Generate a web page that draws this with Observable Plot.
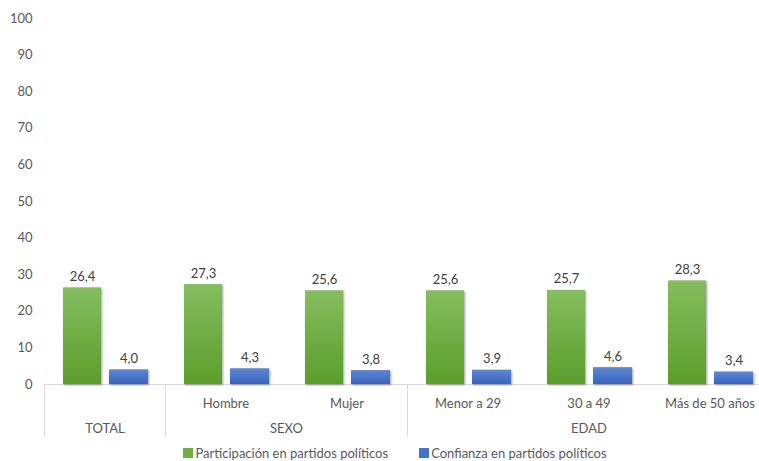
<!DOCTYPE html>
<html><head><meta charset="utf-8">
<script src="https://cdn.jsdelivr.net/npm/d3@7"></script>
<script src="https://cdn.jsdelivr.net/npm/@observablehq/plot@0.6"></script>
<style>
body{margin:0;background:#fff;font-family:Lato,"Open Sans",sans-serif;overflow:hidden;width:759px;height:461px}
#chart svg{display:block}
#chart g[aria-label="bar"] rect{filter:drop-shadow(1.5px 1.5px 1.2px rgba(0,0,0,0.38))}
.legend{display:flex;justify-content:center;align-items:center;height:21px;margin-top:2px;margin-left:31px;font-size:13px;color:#595959;gap:31px}
.legend .it{display:flex;align-items:center}
.legend .sw{width:10px;height:10px;margin-right:2px;display:inline-block}
</style></head>
<body>
<div id="chart"></div>
<div class="legend" id="legend"></div>
<script>
const categories = ["TOTAL","Hombre","Mujer","Menor a 29","30 a 49","Más de 50 años"];
const participacion = [26.4,27.3,25.6,25.6,25.7,28.3];
const confianza = [4.0,4.3,3.8,3.9,4.6,3.4];
const seriesNames = ["Participación en partidos políticos","Confianza en partidos políticos"];
const seriesColors = ["#6fae3f","#4472c4"];
const yTicks = [0,10,20,30,40,50,60,70,80,90,100];
const row1Labels = ["Hombre","Mujer","Menor a 29","30 a 49","Más de 50 años"];
const row2Labels = ["TOTAL"];
const groupLabels = [{label:"SEXO", at:"Hombre", boundary:true},{label:"EDAD", at:"30 a 49", boundary:false}];
const separators = ["TOTAL","Hombre","Menor a 29"];

const rows = categories.map((c,i)=>({cat:c, part:participacion[i], conf:confianza[i]}));
const fmt = v => v.toFixed(1).replace(".", ",");
const band = 121;
const textColor = "#595959";

const defs = () => {
  const d = d3.create("svg:defs");
  const mk = (id, c1, c2) => {
    const g = d.append("linearGradient").attr("id", id).attr("x1",0).attr("y1",0).attr("x2",0).attr("y2",1);
    g.append("stop").attr("offset","0%").attr("stop-color",c1);
    g.append("stop").attr("offset","100%").attr("stop-color",c2);
  };
  mk("gGreen","#85be5e","#5c9d2c");
  mk("gBlue","#5d86d3","#3a64bd");
  return d.node();
};

const chart = Plot.plot({
  width: 759,
  height: 440,
  marginLeft: 44,
  marginRight: 0,
  marginTop: 18,
  marginBottom: 56,
  style: {fontFamily: "Lato, 'Open Sans', sans-serif", fontSize: "13px", color: textColor, background: "#fff"},
  x: {domain: categories, range: [44, 44 + band*categories.length], padding: 0, axis: null},
  y: {domain: [0,100], ticks: yTicks, tickSize: 0, tickPadding: 12, label: null, tickFormat: d => d},
  marks: [
    defs,
    Plot.ruleX(separators, {x: d => d, dx: -band/2, y1: 0, y2: -14.3, stroke: "#d9d9d9", strokeWidth: 1}),
    Plot.ruleY([0], {stroke: "#d9d9d9", strokeWidth: 1}),
    Plot.barY(rows, {x: "cat", y: "part", fill: "url(#gGreen)", insetLeft: 19, insetRight: 64}),
    Plot.barY(rows, {x: "cat", y: "conf", fill: "url(#gBlue)", insetLeft: 65, insetRight: 17}),
    Plot.text(rows, {x: "cat", y: "part", text: d => fmt(d.part), dx: -22.5, dy: -7, lineAnchor: "bottom", fill: "#404040", fontSize: 13}),
    Plot.text(rows, {x: "cat", y: "conf", text: d => fmt(d.conf), dx: 24, dy: -7, lineAnchor: "bottom", fill: "#404040", fontSize: 13}),
    Plot.text(row1Labels, {x: d => d, y: 0, text: d => d, dy: 19, fill: textColor, fontSize: 13}),
    Plot.text(row2Labels, {x: d => d, y: 0, text: d => d, dy: 44, fill: textColor, fontSize: 13}),
    Plot.text(groupLabels.filter(g => g.boundary), {x: "at", y: 0, text: "label", dx: band/2, dy: 44, fill: textColor, fontSize: 13}),
    Plot.text(groupLabels.filter(g => !g.boundary), {x: "at", y: 0, text: "label", dy: 44, fill: textColor, fontSize: 13})
  ]
});
document.getElementById("chart").appendChild(chart);

const legend = d3.select("#legend");
seriesNames.forEach((name, i) => {
  const it = legend.append("div").attr("class", "it");
  it.append("span").attr("class", "sw").style("background", seriesColors[i]);
  it.append("span").text(name);
});
</script>
</body></html>
